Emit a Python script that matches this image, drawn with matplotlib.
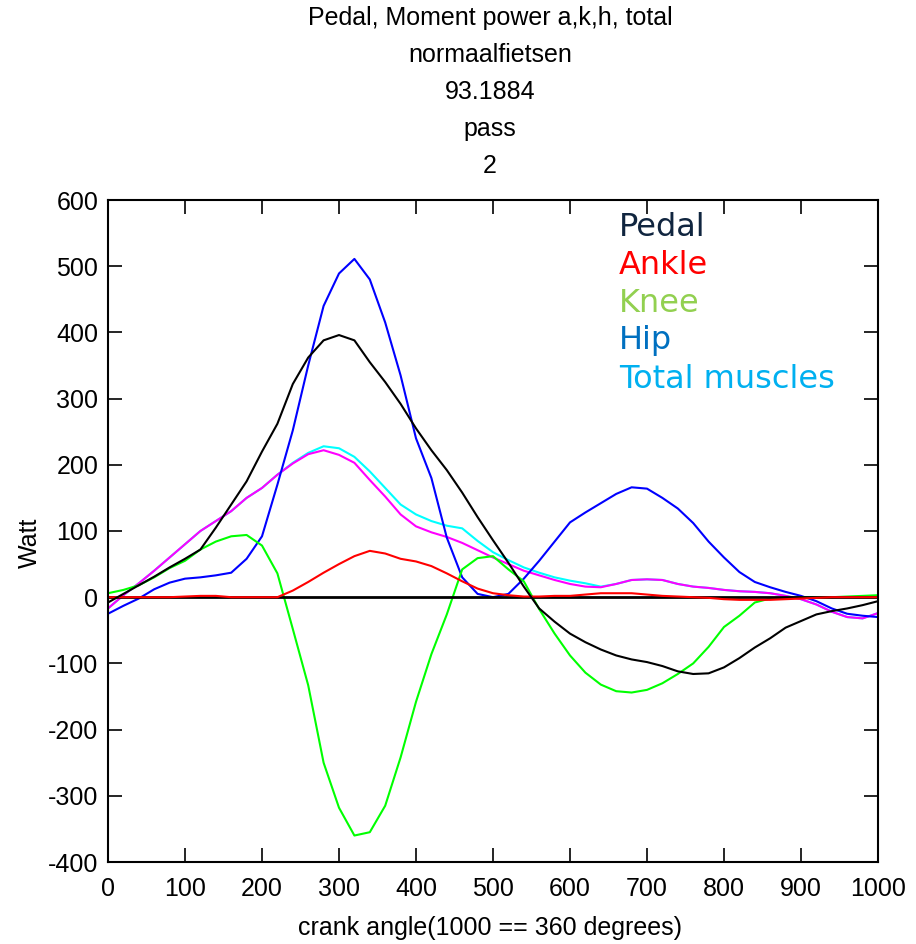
import matplotlib
matplotlib.use("Agg")
import matplotlib.pyplot as plt
import numpy as np

crank = list(range(0, 1001, 20))

pedal = [-8, 5, 18, 31, 45, 58, 72, 105, 140, 175, 220, 262, 322, 362, 388, 396, 388, 355,
         325, 292, 255, 222, 192, 158, 121, 86, 52, 16, -17, -37, -55, -68, -79, -88, -94,
         -98, -104, -112, -116, -115, -106, -92, -76, -62, -46, -36, -26, -21, -17, -12, -6]

hip = [-25, -13, -2, 12, 22, 28, 30, 33, 37, 58, 92, 170, 252, 350, 440, 489, 511, 480,
       415, 335, 240, 180, 90, 30, 5, 0, 5, 28, 55, 84, 113, 128, 142, 156, 166, 164, 150,
       134, 112, 84, 60, 38, 23, 15, 8, 2, -6, -17, -25, -28, -30]

knee = [6, 11, 18, 30, 44, 55, 72, 84, 92, 94, 78, 36, -48, -133, -250, -318, -360, -355,
        -315, -242, -158, -86, -26, 42, 59, 62, 42, 24, -18, -55, -88, -114, -132, -142,
        -144, -140, -130, -116, -100, -75, -45, -28, -8, -2, -1, 0, 0, 0, 1, 2, 3]

ankle = [0, 0, 0, 0, 0, 1, 2, 2, 0, 0, 0, 0, 10, 23, 37, 50, 62, 70, 66, 58, 54, 47, 36,
         24, 13, 6, 3, 1, 1, 2, 2, 4, 6, 6, 6, 4, 2, 1, 0, -1, -3, -4, -4, -4, -3, -2, -1,
         0, 0, 0, 0]

joints = [-17, 3, 21, 40, 60, 80, 100, 115, 130, 150, 165, 185, 202, 216, 222, 215, 203,
          177, 152, 125, 107, 98, 91, 82, 71, 60, 50, 40, 33, 26, 20, 16, 15, 20, 26, 27,
          26, 20, 16, 14, 11, 9, 8, 6, 2, -3, -11, -22, -30, -32, -24]

total_muscles = [-17, 3, 21, 40, 60, 80, 100, 115, 130, 150, 165, 185, 203, 218, 228, 225,
                 212, 190, 165, 140, 125, 115, 108, 104, 85, 68, 56, 45, 37, 30, 25, 21, 16,
                 20, 26, 27, 26, 20, 16, 14, 11, 9, 8, 6, 2, -3, -11, -22, -30, -32, -24]

title_lines = ["Pedal, Moment power a,k,h, total", "normaalfietsen", "93.1884", "pass", "2"]
legend_labels = ["Pedal", "Ankle", "Knee", "Hip", "Total muscles"]
legend_colors = ["#10253F", "#FF0000", "#92D050", "#0070C0", "#00B0F0"]
x_ticks = list(range(0, 1001, 100))
y_ticks = list(range(-400, 601, 100))

plt.rcParams['font.family'] = ["Liberation Sans", "DejaVu Sans"]
plt.rcParams['axes.unicode_minus'] = False

fig = plt.figure(figsize=(9.16, 9.44), dpi=100)
ax = fig.add_axes([108/916, 1-862/944, (878-108)/916, (862-200)/944])

lw = 1.5
ax.plot(crank, total_muscles, color="#00FFFF", lw=lw)
ax.plot(crank, joints, color="#FF00FF", lw=lw)
ax.plot(crank, hip, color="#0000FF", lw=lw)
ax.plot(crank, knee, color="#00FF00", lw=lw)
ax.axhline(0, color="black", lw=2)
ax.plot(crank, ankle, color="#FF0000", lw=lw)
ax.plot(crank, pedal, color="black", lw=lw)

ax.set_xlim(0, 1000)
ax.set_ylim(-400, 600)
ax.set_xticks(x_ticks)
ax.set_yticks(y_ticks)
ax.tick_params(direction="in", length=10, width=1.2, top=True, right=True,
               labelsize=18)
ax.tick_params(axis="x", pad=11)
ax.tick_params(axis="y", pad=7)
for s in ax.spines.values():
    s.set_linewidth(1.5)

ax.set_xlabel("crank angle(1000 == 360 degrees)", fontsize=18)
ax.set_ylabel("Watt", fontsize=18)
ax.xaxis.set_label_coords((490-108)/770, -(928-862)/662)
ax.yaxis.set_label_coords((30-108)/770, (862-543)/662)
ax.xaxis.label.set_va("center")
ax.yaxis.label.set_va("center")

ytop = 18
for i, t in enumerate(title_lines):
    fig.text(490/916, 1 - (ytop + 37*i)/944, t, ha="center", va="center", fontsize=18)

for i, (lab, c) in enumerate(zip(legend_labels, legend_colors)):
    fig.text(619/916, 1 - (227 + 38*i)/944, lab, color=c, ha="left", va="center",
             fontsize=23, family=["DejaVu Sans"])

fig.savefig("out.png", dpi=100)
